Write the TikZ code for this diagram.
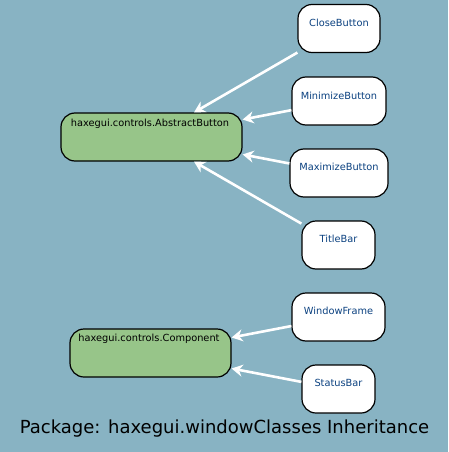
\documentclass[tikz,border=0pt]{standalone}
\usepackage{fontspec}
\setmainfont{DejaVu Sans}
\usetikzlibrary{arrows.meta}
\definecolor{bgc}{HTML}{88B3C3}
\definecolor{greenc}{HTML}{97C589}
\definecolor{bluet}{HTML}{0B4180}
\tikzset{
  cls/.style={draw=black, line width=1.2pt, rounded corners=14pt, fill=white, minimum height=48pt, inner sep=0pt},
  parent/.style={cls, fill=greenc},
  ctext/.style={font=\fontsize{9.8}{11}\selectfont, text=bluet},
  ptext/.style={font=\fontsize{9.8}{11}\selectfont, text=black},
  inh/.style={draw=white, line width=2.6pt, -{Stealth[length=11pt,width=12pt]}}
}
\begin{document}
\begin{tikzpicture}[x=1pt,y=-1pt]
\fill[bgc] (0,0) rectangle (448,452);
\useasboundingbox (0,0) rectangle (448,452);
\node[parent, minimum width=181pt] (abs) at (151.5,137) {};
\node[ptext] (abst) at (150,124) {haxegui.controls.AbstractButton};
\node[parent, minimum width=161pt] (comp) at (150.5,353) {};
\node[ptext] (compt) at (149,339) {haxegui.controls.Component};
\node[cls, minimum width=82pt] (close) at (339,28.5) {};
\node[ctext] (closet) at (339,23) {CloseButton};
\node[cls, minimum width=94pt] (mini) at (339,101) {};
\node[ctext] (minit) at (339,96) {MinimizeButton};
\node[cls, minimum width=98pt] (maxi) at (339,173) {};
\node[ctext] (maxit) at (339,167) {MaximizeButton};
\node[cls, minimum width=73pt] (title) at (338.5,245) {};
\node[ctext] (titlet) at (338.5,239) {TitleBar};
\node[cls, minimum width=93pt] (frame) at (338.5,317) {};
\node[ctext] (framet) at (338.5,311) {WindowFrame};
\node[cls, minimum width=73pt] (status) at (338.5,389) {};
\node[ctext] (statust) at (338.5,383) {StatusBar};
\draw[inh] (close) -- (abs);
\draw[inh] (mini) -- (abs);
\draw[inh] (maxi) -- (abs);
\draw[inh] (title) -- (abs);
\draw[inh] (frame) -- (comp);
\draw[inh] (status) -- (comp);
\node[font=\fontsize{18}{20}\selectfont] (cap) at (224.5,429) {Package: haxegui.windowClasses Inheritance};
\end{tikzpicture}
\end{document}
